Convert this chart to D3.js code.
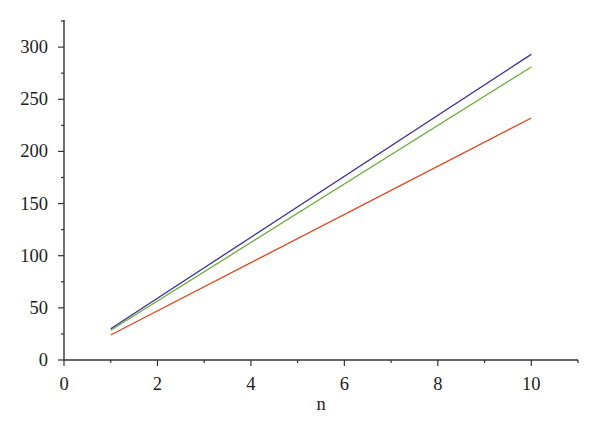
<!DOCTYPE html>
<html>
<head>
<meta charset="utf-8">
<script src="https://cdn.jsdelivr.net/npm/d3@7"></script>
<style>
  body { margin: 0; background: #fff; }
  text { font-family: "Liberation Serif", "Times New Roman", serif; fill: #222; }
</style>
</head>
<body>
<div id="chart"></div>
<script>
// data
var nValues = [1, 10];
var seriesBlue = [30, 293];
var seriesGreen = [28.5, 281];
var seriesRed = [24, 232];
var xTicks = [0, 2, 4, 6, 8, 10];
var yTicks = [0, 50, 100, 150, 200, 250, 300];

var width = 600, height = 432;
var margin = {top: 20, right: 22, bottom: 72, left: 64};

var svg = d3.select("#chart")
  .append("svg")
    .attr("width", width)
    .attr("height", height);

var x = d3.scaleLinear()
  .domain([0, 11])
  .range([margin.left, width - margin.right]);

var y = d3.scaleLinear()
  .domain([0, 326])
  .range([height - margin.bottom, margin.top]);

// minor ticks
var xMinor = d3.range(1, 12, 2);
var yMinor = d3.range(25, 326, 50);

var axisColor = "#333";

// x axis
var gx = svg.append("g")
  .attr("transform", "translate(0," + y(0) + ")");
gx.append("line")
  .attr("x1", x(0)).attr("x2", x(11))
  .attr("stroke", axisColor).attr("stroke-width", 1.4);
gx.selectAll(".major").data(xTicks).enter().append("line")
  .attr("x1", x).attr("x2", x)
  .attr("y1", 0).attr("y2", 6)
  .attr("stroke", axisColor).attr("stroke-width", 1.2);
gx.selectAll(".minor").data(xMinor).enter().append("line")
  .attr("x1", x).attr("x2", x)
  .attr("y1", 0).attr("y2", 3)
  .attr("stroke", axisColor).attr("stroke-width", 1.2);
gx.selectAll("text").data(xTicks).enter().append("text")
  .attr("x", x)
  .attr("y", 30)
  .attr("text-anchor", "middle")
  .attr("font-size", 18.5)
  .text(function(d) { return d; });

// y axis
var gy = svg.append("g")
  .attr("transform", "translate(" + x(0) + ",0)");
gy.append("line")
  .attr("y1", y(0)).attr("y2", y(326))
  .attr("stroke", axisColor).attr("stroke-width", 1.4);
gy.selectAll(".major").data(yTicks).enter().append("line")
  .attr("y1", y).attr("y2", y)
  .attr("x1", 0).attr("x2", -6)
  .attr("stroke", axisColor).attr("stroke-width", 1.2);
gy.selectAll(".minor").data(yMinor).enter().append("line")
  .attr("y1", y).attr("y2", y)
  .attr("x1", 0).attr("x2", -3)
  .attr("stroke", axisColor).attr("stroke-width", 1.2);
gy.selectAll("text").data(yTicks).enter().append("text")
  .attr("x", -16)
  .attr("y", function(d) { return y(d) + 6; })
  .attr("text-anchor", "end")
  .attr("font-size", 18.5)
  .text(function(d) { return d; });

// axis title
svg.append("text")
  .attr("x", x(5.5))
  .attr("y", 410)
  .attr("text-anchor", "middle")
  .attr("font-size", 18.5)
  .text("n");

// lines
var line = d3.line()
  .x(function(d) { return x(d[0]); })
  .y(function(d) { return y(d[1]); });

var series = [
  {values: seriesRed, color: "#e0461e"},
  {values: seriesGreen, color: "#6aab3a"},
  {values: seriesBlue, color: "#3b2f93"}
];

svg.selectAll(".series").data(series).enter().append("path")
  .attr("d", function(s) { return line(nValues.map(function(n, i) { return [n, s.values[i]]; })); })
  .attr("fill", "none")
  .attr("stroke", function(s) { return s.color; })
  .attr("stroke-width", 1.3);
</script>
</body>
</html>
